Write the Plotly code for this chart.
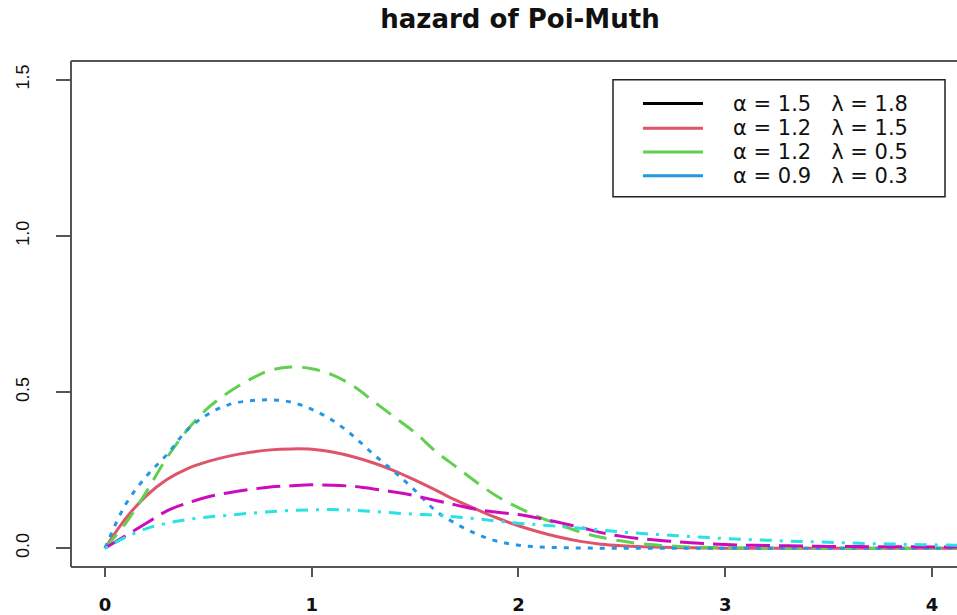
import plotly.graph_objects as go

x_vals = [round(0.1 * i, 1) for i in range(43)]

red_solid = [0, 0.095, 0.168, 0.22, 0.255, 0.278, 0.295, 0.307, 0.315, 0.318, 0.317, 0.308, 0.293, 0.273,
             0.248, 0.218, 0.186, 0.153, 0.124, 0.096, 0.072, 0.052, 0.035, 0.022, 0.013, 0.008, 0.005,
             0.003, 0.002, 0.001, 0, 0, 0, 0, 0, 0, 0, 0, 0, 0, 0, 0, 0]
green_dash = [0, 0.08, 0.18, 0.29, 0.38, 0.45, 0.50, 0.54, 0.57, 0.58, 0.575, 0.555, 0.52, 0.47, 0.42,
              0.37, 0.31, 0.26, 0.21, 0.165, 0.13, 0.10, 0.075, 0.052, 0.035, 0.023, 0.014, 0.009, 0.005,
              0.003, 0.002, 0.001, 0.001, 0.001, 0, 0, 0, 0, 0, 0, 0, 0, 0]
blue_dot = [0, 0.14, 0.23, 0.30, 0.38, 0.43, 0.46, 0.472, 0.475, 0.468, 0.445, 0.41, 0.36, 0.30, 0.245,
            0.185, 0.12, 0.078, 0.045, 0.022, 0.01, 0.004, 0.002, 0.001, 0, 0, 0, 0, 0, 0, 0, 0, 0, 0,
            0, 0, 0, 0, 0, 0, 0, 0, 0]
magenta_dash = [0, 0.04, 0.08, 0.12, 0.145, 0.165, 0.178, 0.188, 0.196, 0.2, 0.203, 0.202, 0.198, 0.19,
                0.18, 0.168, 0.153, 0.138, 0.124, 0.115, 0.108, 0.096, 0.082, 0.067, 0.05, 0.038, 0.03,
                0.024, 0.019, 0.015, 0.012, 0.01, 0.009, 0.008, 0.007, 0.006, 0.006, 0.005, 0.005, 0.005,
                0.004, 0.004, 0.004]
cyan_dashdot = [0, 0.035, 0.063, 0.08, 0.092, 0.1, 0.106, 0.112, 0.117, 0.121, 0.123, 0.124, 0.122,
                0.118, 0.113, 0.109, 0.106, 0.1, 0.094, 0.087, 0.08, 0.075, 0.07, 0.064, 0.058, 0.052,
                0.047, 0.043, 0.039, 0.035, 0.031, 0.028, 0.026, 0.023, 0.021, 0.019, 0.017, 0.015,
                0.014, 0.012, 0.011, 0.01, 0.009]

legend_labels = ["α = 1.5   λ = 1.8", "α = 1.2   λ = 1.5", "α = 1.2   λ = 0.5", "α = 0.9   λ = 0.3"]
legend_colors = ["#000000", "#DF536B", "#61D04F", "#2297E6"]

x_ticks = [0, 1, 2, 3, 4]
y_ticks = [0.0, 0.5, 1.0, 1.5]
y_tick_text = ["0.0", "0.5", "1.0", "1.5"]

W, H = 957, 615
L, T, B = 71, 61, 572
R = 957

def px(xp):
    return (xp - L) / (R - L)

def py(yp):
    return (B - yp) / (B - T)

fig = go.Figure()

series = [
    (red_solid, "#DF536B", "solid"),
    (green_dash, "#61D04F", "18px,10px"),
    (blue_dot, "#2297E6", "5px,7px"),
    (magenta_dash, "#CD0BBC", "24px,9px"),
    (cyan_dashdot, "#28E2E5", "3px,8px,12px,8px"),
]
for ys, col, dash in series:
    fig.add_trace(go.Scatter(x=x_vals, y=ys, mode="lines", line=dict(color=col, width=3, dash=dash, shape="spline"),
                             showlegend=False, hoverinfo="skip"))

shapes = []
box_col = "#555555"
shapes.append(dict(type="line", xref="paper", yref="paper", x0=0, x1=0, y0=0, y1=1, line=dict(color=box_col, width=2)))
shapes.append(dict(type="line", xref="paper", yref="paper", x0=0, x1=1.01, y0=1, y1=1, line=dict(color=box_col, width=2)))
shapes.append(dict(type="line", xref="paper", yref="paper", x0=0, x1=1.01, y0=0, y1=0, line=dict(color=box_col, width=2)))

# legend box
shapes.append(dict(type="rect", xref="paper", yref="paper", x0=px(613), x1=px(945), y0=py(198), y1=py(80),
                   line=dict(color="#222222", width=1.5), fillcolor="white"))
annotations = []
rows = [104, 129, 153, 177]
for lab, col, ry in zip(legend_labels, legend_colors, rows):
    shapes.append(dict(type="line", xref="paper", yref="paper", x0=px(643), x1=px(703), y0=py(ry), y1=py(ry),
                       line=dict(color=col, width=3)))
    annotations.append(dict(xref="paper", yref="paper", x=px(731), y=py(ry), text=lab, showarrow=False,
                            xanchor="left", yanchor="middle",
                            font=dict(family="DejaVu Sans", size=21, color="#111111")))

fig.update_layout(
    width=W, height=H,
    margin=dict(l=L, r=W - R, t=T, b=H - B),
    paper_bgcolor="white", plot_bgcolor="white",
    title=dict(text="<b>hazard of Poi-Muth</b>", xref="container", x=520 / W, xanchor="center",
               y=1 - 19 / H, yanchor="middle", font=dict(family="DejaVu Sans", size=26, color="#111111")),
    xaxis=dict(range=[-0.164, (R - 105) / 206.75], tickvals=x_ticks, ticktext=[str(v) for v in x_ticks],
               showgrid=False, zeroline=False, showline=False, ticks="outside", ticklen=9, tickwidth=2,
               tickcolor=box_col, ticklabelstandoff=12,
               tickfont=dict(family="DejaVu Sans", size=18, color="#111111", weight="bold")),
    yaxis=dict(range=[-0.06, 1.56], tickvals=y_ticks, ticktext=y_tick_text, tickangle=-90,
               showgrid=False, zeroline=False, showline=False, ticks="outside", ticklen=14, tickwidth=2,
               tickcolor=box_col, ticklabelstandoff=20,
               tickfont=dict(family="Liberation Sans", size=18, color="#111111")),
    shapes=shapes, annotations=annotations,
)

fig.write_html("out.html")
